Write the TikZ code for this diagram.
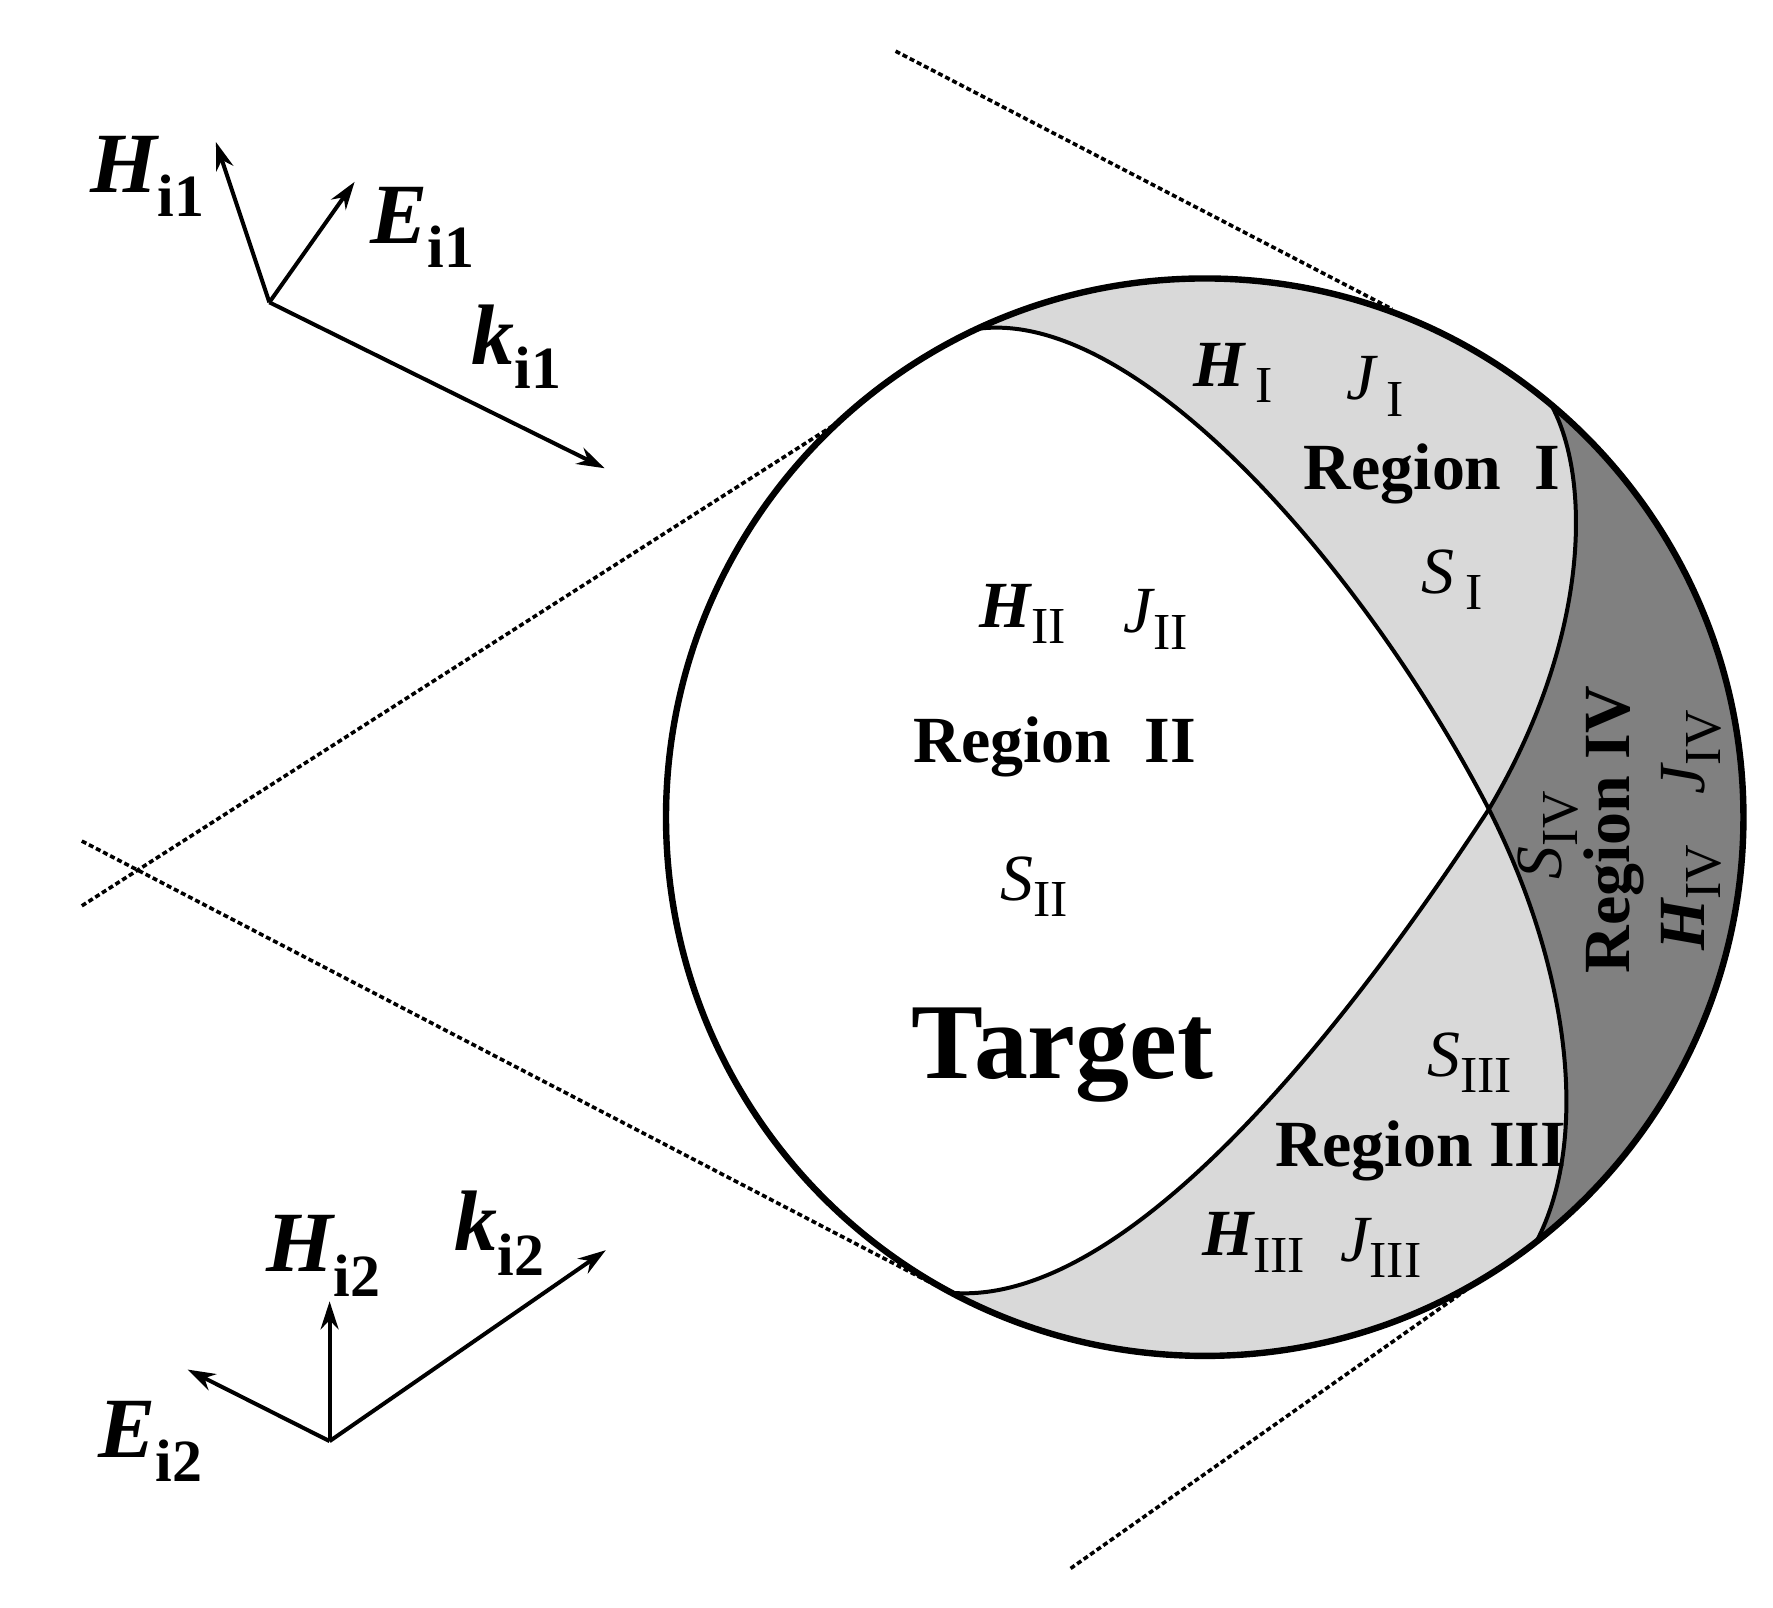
\documentclass[tikz,border=0pt]{standalone}
\usepackage{fontspec}
\setmainfont{Liberation Serif}
\usetikzlibrary{arrows.meta}
\begin{document}
\begin{tikzpicture}[x=0.02cm,y=-0.02cm,
  vec/.style={line width=2pt,-{Stealth[length=14pt,width=9pt]}},
  tan/.style={line width=1.8pt,dash pattern=on 2.5pt off 1.5pt},
  big/.style={font=\fontsize{43}{43}\selectfont\bfseries\itshape,inner sep=0},
  reg/.style={font=\fontsize{33}{33}\selectfont\bfseries,inner sep=0},
  qty/.style={font=\fontsize{33}{33}\selectfont\itshape,inner sep=0}]
\useasboundingbox (0,0) rectangle (1560,1414);
\newcommand{\bsub}[1]{\textsubscript{\upshape\fontsize{30}{30}\selectfont #1}}
\newcommand{\rsub}[1]{\raisebox{-0.25em}{\upshape\mdseries\fontsize{26}{26}\selectfont #1}}
\coordinate (c) at (1060,719);
\coordinate (pA) at ([shift={(-115:474)}]c);
\coordinate (pB) at ([shift={(-50:474)}]c);
\coordinate (pC) at ([shift={(52:474)}]c);
\coordinate (pD) at ([shift={(118:474)}]c);
\coordinate (X) at (1310,712);
% Region I
\fill[black!15] (pA) .. controls (1000,270) and (1200,500) .. (X)
  .. controls (1400,560) and (1400,420) .. (pB)
  arc[start angle=-50,end angle=-115,radius=474] -- cycle;
% Region III
\fill[black!15] (X) .. controls (1200,880) and (1000,1150) .. (pD)
  arc[start angle=118,end angle=52,radius=474]
  .. controls (1400,1000) and (1380,850) .. (X) -- cycle;
% Region IV
\fill[black!50] (X) .. controls (1380,850) and (1400,1000) .. (pC)
  arc[start angle=52,end angle=-50,radius=474]
  .. controls (1400,420) and (1400,560) .. (X) -- cycle;
\draw[line width=2pt] (pA) .. controls (1000,270) and (1200,500) .. (X)
  .. controls (1380,850) and (1400,1000) .. (pC);
\draw[line width=2pt] (pD) .. controls (1000,1150) and (1200,880) .. (X)
  .. controls (1400,560) and (1400,420) .. (pB);
\node[draw,circle,line width=3.2pt,minimum size=948*0.02cm,inner sep=0] (circ) at (c) {};
% tangent lines
\coordinate (t1a) at (788,45); \coordinate (t1b) at (1225,272);
\coordinate (t2a) at (72,740); \coordinate (t2b) at (835,1137);
\coordinate (t3a) at (72,797); \coordinate (t3b) at (740,370);
\coordinate (t4a) at (942,1380); \coordinate (t4b) at (1290,1135);
\draw[tan] (t1a)--(t1b); \draw[tan] (t2a)--(t2b);
\draw[tan] (t3a)--(t3b); \draw[tan] (t4a)--(t4b);
% vectors
\coordinate (o1) at (237,266); \coordinate (h1) at (190,125);
\coordinate (e1) at (312,160); \coordinate (k1) at (532,412);
\draw[vec] (o1)--(h1); \draw[vec] (o1)--(e1); \draw[vec] (o1)--(k1);
\coordinate (o2) at (290,1268); \coordinate (h2) at (290,1145);
\coordinate (e2) at (165,1205); \coordinate (k2) at (533,1100);
\draw[vec] (o2)--(h2); \draw[vec] (o2)--(e2); \draw[vec] (o2)--(k2);
\node[big] (lh1) at (130,155) {H\bsub{i1}};
\node[big] (le1) at (372,200) {E\bsub{i1}};
\node[big] (lk1) at (455,305) {k\bsub{i1}};
\node[big] (lh2) at (285,1105) {H\bsub{i2}};
\node[big] (lk2) at (440,1085) {k\bsub{i2}};
\node[big] (le2) at (133,1268) {E\bsub{i2}};
% region labels
\node[qty] (hI) at (1085,328) {\textbf{H}\,\rsub{I}};
\node[qty] (jI) at (1210,340) {J\,\rsub{I}};
\node[reg] (rI) at (1260,417) {Region\ \ I};
\node[qty] (sI) at (1278,510) {S\,\rsub{I}};
\node[qty] (hII) at (900,540) {\textbf{H}\rsub{II}};
\node[qty] (jII) at (1017,545) {J\rsub{II}};
\node[reg] (rII) at (928,657) {Region\ \ II};
\node[qty] (sII) at (910,780) {S\rsub{II}};
\node[font=\fontsize{54}{54}\selectfont\bfseries,inner sep=0] (tg) at (935,928) {Target};
\node[qty] (sIII) at (1293,935) {S\rsub{III}};
\node[reg] (rIII) at (1250,1013) {Region\ III};
\node[qty] (hIII) at (1103,1093) {\textbf{H}\rsub{III}};
\node[qty] (jIII) at (1215,1098) {J\rsub{III}};
\node[reg,rotate=90] (rIV) at (1420,730) {Region IV};
\node[qty,rotate=90] (jIV) at (1488,662) {J\rsub{IV}};
\node[qty,rotate=90] (hIV) at (1488,790) {\textbf{H}\rsub{IV}};
\node[qty,rotate=90] (sIV) at (1362,735) {S\rsub{IV}};
\end{tikzpicture}
\end{document}
